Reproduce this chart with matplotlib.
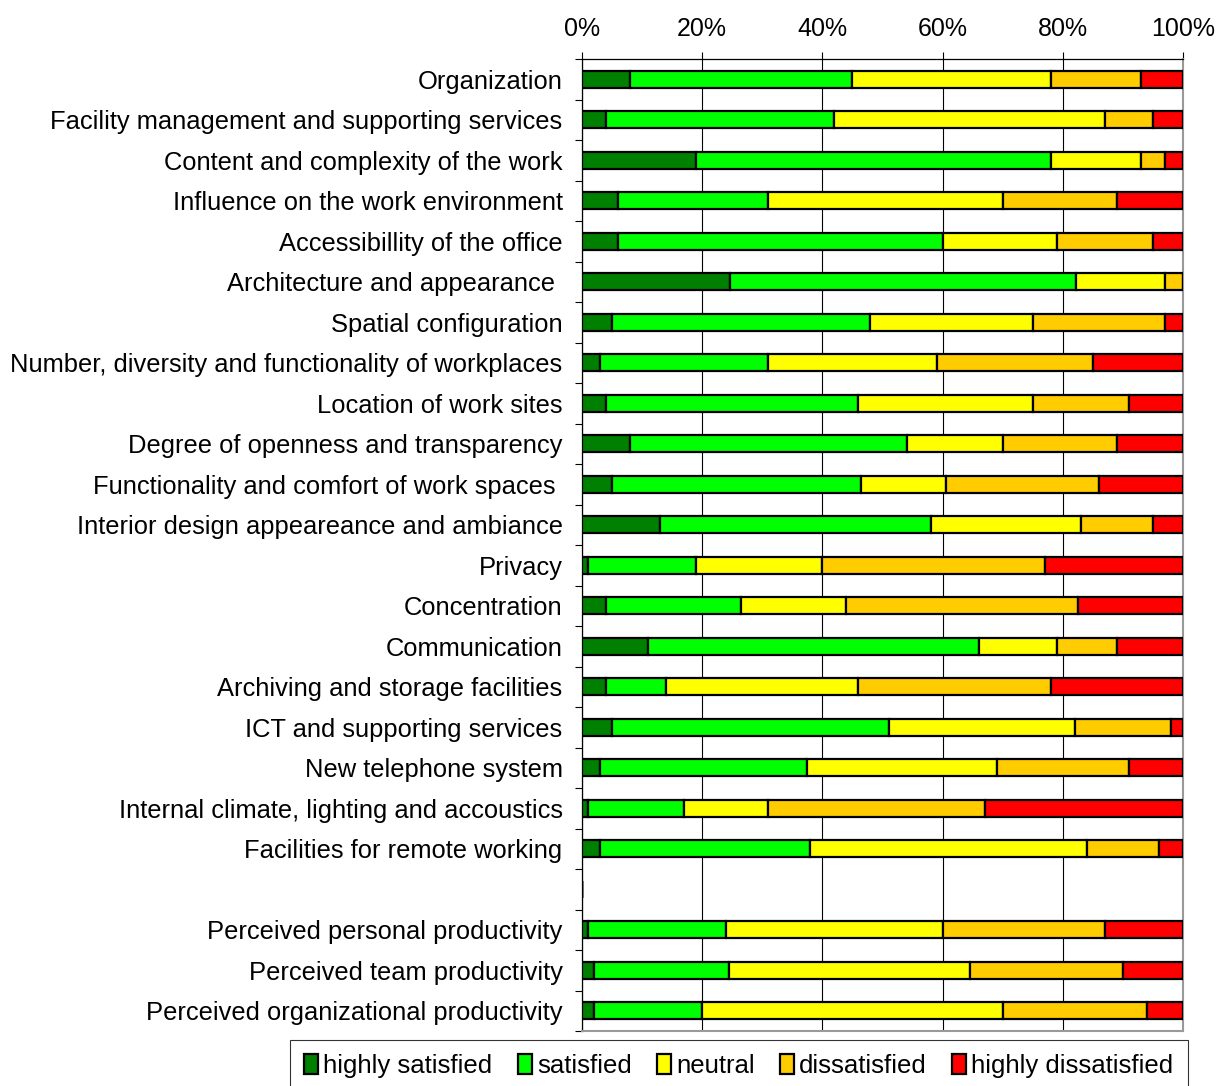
import matplotlib.pyplot as plt
from matplotlib.patches import Patch

plt.rcParams['font.family'] = ['Liberation Sans', 'DejaVu Sans']

categories = [
    "Organization",
    "Facility management and supporting services",
    "Content and complexity of the work",
    "Influence on the work environment",
    "Accessibillity of the office",
    "Architecture and appearance ",
    "Spatial configuration",
    "Number, diversity and functionality of workplaces",
    "Location of work sites",
    "Degree of openness and transparency",
    "Functionality and comfort of work spaces ",
    "Interior design appeareance and ambiance",
    "Privacy",
    "Concentration",
    "Communication",
    "Archiving and storage facilities",
    "ICT and supporting services",
    "New telephone system",
    "Internal climate, lighting and accoustics",
    "Facilities for remote working",
    "",
    "Perceived personal productivity",
    "Perceived team productivity",
    "Perceived organizational productivity",
]

# percentages per category (the empty row is a spacer)
highly_satisfied = [8, 4, 19, 6, 6, 24.7, 5, 3, 4, 8, 5, 13, 1, 4, 11, 4, 5, 3, 1, 3, 0, 1, 2, 2]
satisfied = [37, 38, 59, 25, 54, 57.5, 43, 28, 42, 46, 41.5, 45, 18, 22.5, 55, 10, 46, 34.5, 16, 35, 0, 23, 22.5, 18]
neutral = [33, 45, 15, 39, 19, 14.8, 27, 28, 29, 16, 14, 25, 21, 17.5, 13, 32, 31, 31.5, 14, 46, 0, 36, 40, 50]
dissatisfied = [15, 8, 4, 19, 16, 3, 22, 26, 16, 19, 25.5, 12, 37, 38.5, 10, 32, 16, 22, 36, 12, 0, 27, 25.5, 24]
highly_dissatisfied = [7, 5, 3, 11, 5, 0, 3, 15, 9, 11, 14, 5, 23, 17.5, 11, 22, 2, 9, 33, 4, 0, 13, 10, 6]

series = [highly_satisfied, satisfied, neutral, dissatisfied, highly_dissatisfied]
series_names = ["highly satisfied", "satisfied", "neutral", "dissatisfied", "highly dissatisfied"]
colors = ["#008000", "#00FF00", "#FFFF00", "#FFCC00", "#FF0000"]
x_ticks = [0, 20, 40, 60, 80, 100]
x_labels = ["0%", "20%", "40%", "60%", "80%", "100%"]

fig = plt.figure(figsize=(12.25, 10.86), dpi=100)
ax = fig.add_axes([582 / 1225, 1 - 1031 / 1086, 601 / 1225, (1031 - 59) / 1086])

y = list(range(len(categories)))
left = [0] * len(categories)
for vals, col in zip(series, colors):
    ax.barh(y, vals, left=left, height=0.42, color=col, edgecolor="black",
            linewidth=1.6, zorder=3)
    left = [l + v for l, v in zip(left, vals)]

ax.set_xlim(0, 100)
ax.set_ylim(len(categories) - 0.5, -0.5)
ax.xaxis.tick_top()
ax.set_xticks(x_ticks)
ax.set_xticklabels(x_labels, fontsize=18)
ax.tick_params(axis="x", direction="out", length=5, width=0.8, pad=8)
ax.grid(axis="x", color="black", linewidth=0.8, zorder=0)

ax.set_yticks(y)
ax.set_yticklabels(categories, fontsize=18.4)
ax.set_yticks([k + 0.5 for k in range(-1, len(categories))], minor=True)
ax.tick_params(axis="y", which="major", length=0, pad=14)
ax.tick_params(axis="y", which="minor", direction="out", length=5, width=0.8)

for side in ["left", "top"]:
    ax.spines[side].set_color("black")
    ax.spines[side].set_linewidth(0.9)
for side in ["right", "bottom"]:
    ax.spines[side].set_color("#999999")
    ax.spines[side].set_linewidth(1.5)

handles = [Patch(facecolor=c, edgecolor="black", linewidth=1.6) for c in colors]
leg = fig.legend(handles, series_names, loc="upper left",
                 bbox_to_anchor=(290 / 1225, 1 - 1040 / 1086), ncol=5,
                 fontsize=18.5, frameon=True, fancybox=False, borderpad=0.55,
                 handlelength=0.55, handleheight=0.8, handletextpad=0.2,
                 columnspacing=0.98, borderaxespad=0)
leg.get_frame().set_edgecolor("black")
leg.get_frame().set_linewidth(0.8)

fig.savefig("out.png", dpi=100)
